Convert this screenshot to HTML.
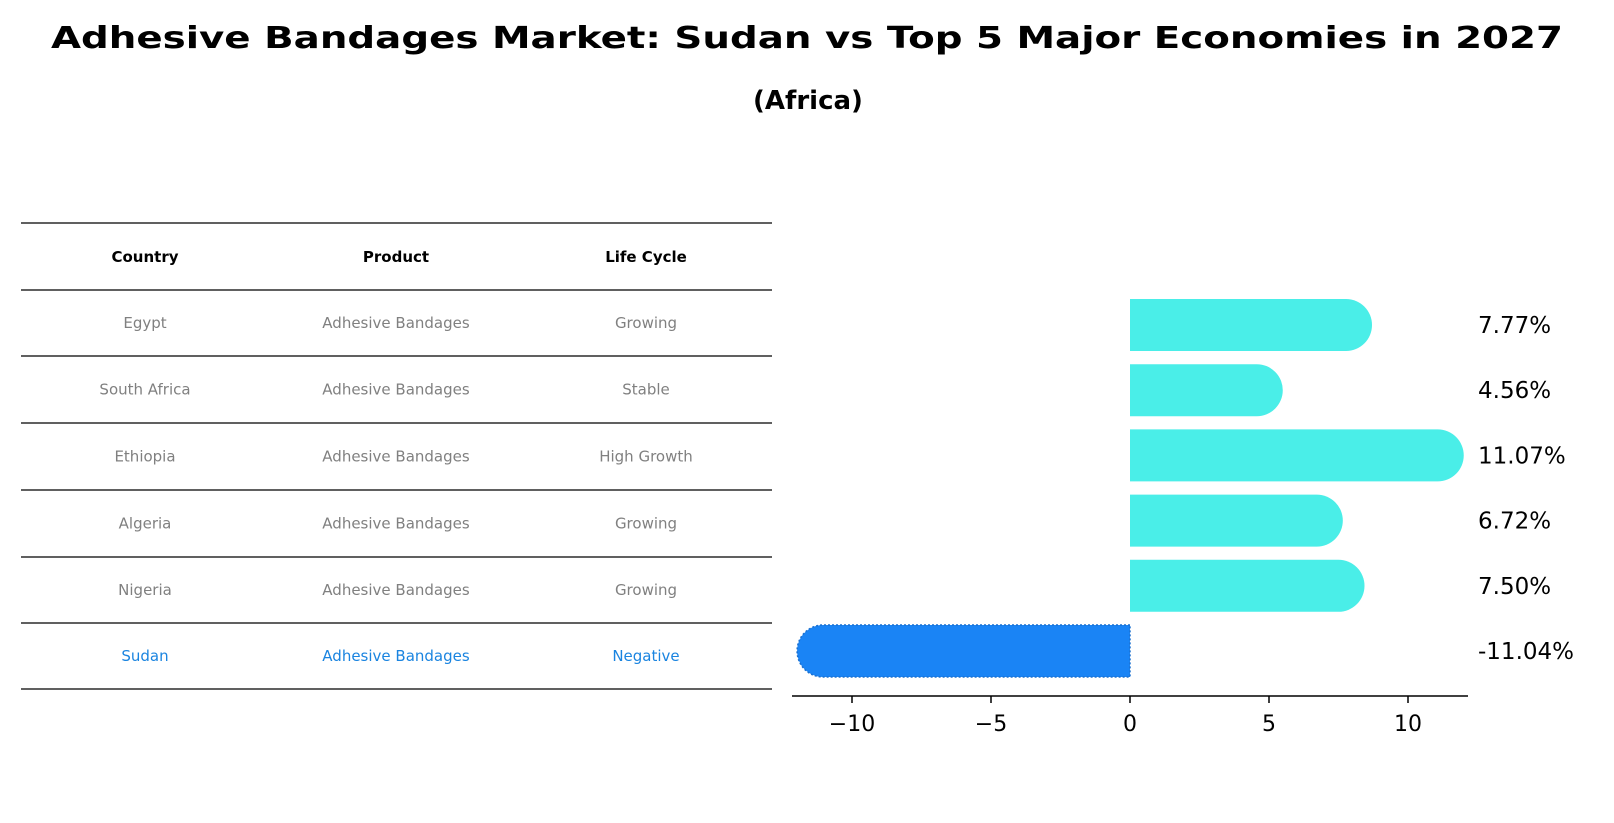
<!DOCTYPE html>
<html><head><meta charset="utf-8"><style>
body{margin:0;background:#fff;}
svg{display:block;font-family:"DejaVu Sans","Liberation Sans",sans-serif;}
</style></head><body>
<svg id="c" width="1614" height="823" viewBox="0 0 1614 823">
<text x="807" y="48" text-anchor="middle" font-size="30" font-weight="bold" textLength="1512" lengthAdjust="spacingAndGlyphs">Adhesive Bandages Market: Sudan vs Top 5 Major Economies in 2027</text>
<text x="808" y="109" text-anchor="middle" font-size="26" font-weight="bold">(Africa)</text>
<g id="table"></g>
<g id="bars"></g>
</svg>
<script>
const countries=["Egypt","South Africa","Ethiopia","Algeria","Nigeria","Sudan"];
const products=["Adhesive Bandages","Adhesive Bandages","Adhesive Bandages","Adhesive Bandages","Adhesive Bandages","Adhesive Bandages"];
const lifeCycles=["Growing","Stable","High Growth","Growing","Growing","Negative"];
const values=[7.77,4.56,11.07,6.72,7.50,-11.04];
const valueLabels=["7.77%","4.56%","11.07%","6.72%","7.50%","-11.04%"];
const ticks=[-10,-5,0,5,10];
const tickLabels=["\u221210","\u22125","0","5","10"];

const NS="http://www.w3.org/2000/svg";
function mk(tag,attrs,parent){const e=document.createElementNS(NS,tag);for(const k in attrs)e.setAttribute(k,attrs[k]);parent.appendChild(e);return e;}
// table
const tb=document.getElementById('table');
const lineY=[223,290,356,423,490,557,623,689];
const colX=[145,396,646];
lineY.forEach((y,i)=>{const l=mk('line',{x1:21,x2:772,y1:y,y2:y,stroke:'#000','stroke-width':1.2},tb);

});
const hdr=["Country","Product","Life Cycle"];
hdr.forEach((h,i)=>{const t=mk('text',{x:colX[i],y:262,'text-anchor':'middle','font-size':15,'font-weight':'bold'},tb);t.textContent=h;

});
countries.forEach((c,r)=>{const y=(lineY[r+1]+lineY[r+2])/2+5;const col=r===countries.length-1?'#1a84e0':'#808080';
[c,products[r],lifeCycles[r]].forEach((v,i)=>{const t=mk('text',{x:colX[i],y:y,'text-anchor':'middle','font-size':15,fill:col},tb);t.textContent=v;

});});
// bars
const g=document.getElementById('bars');
const x0=1130,scale=27.8;
const X=v=>x0+v*scale;
const Y=i=>325+i*65.2;
const bh=52,r=26;
const axY=696;
const ax=mk('line',{x1:792,x2:1468,y1:axY,y2:axY,stroke:'#000','stroke-width':1.5},g);


ticks.forEach((t,i)=>{const l=mk('line',{x1:X(t),x2:X(t),y1:axY,y2:axY+7,stroke:'#000','stroke-width':1.5},g);


const tx=mk('text',{x:X(t),y:axY+35,'text-anchor':'middle','font-size':22},g);tx.textContent=tickLabels[i];

});
values.forEach((v,i)=>{const yc=Y(i),xe=X(v);const neg=v<0;const col=neg?'#1a84f5':'#4aeee8';
let d;
if(!neg)d=`M${x0},${yc-bh/2} L${xe},${yc-bh/2} A${r},${r} 0 0 1 ${xe},${yc+bh/2} L${x0},${yc+bh/2} Z`;
else d=`M${x0},${yc-bh/2} L${xe},${yc-bh/2} A${r},${r} 0 0 0 ${xe},${yc+bh/2} L${x0},${yc+bh/2} Z`;
const p=mk('path',{d:d,fill:col},g);
if(neg){p.setAttribute('stroke','#1a70d0');p.setAttribute('stroke-dasharray','2 2');p.setAttribute('stroke-width','1.5');}


const t=mk('text',{x:1478,y:yc+8,'font-size':23},g);t.textContent=valueLabels[i];

});
</script>
</body></html>
